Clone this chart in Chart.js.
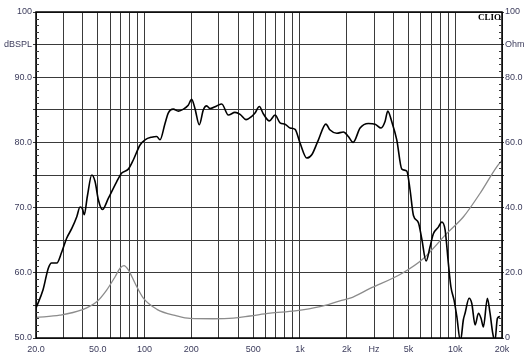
<!DOCTYPE html>
<html>
<head>
<meta charset="utf-8">
<script src="https://cdn.jsdelivr.net/npm/chart.js@4"></script>
<style>
  body { margin: 0; background: #fff; }
  #wrap { width: 530px; height: 364px; }
</style>
</head>
<body>
<div id="wrap"><canvas id="clio"></canvas></div>
<script>
// SPL response (Hz, dBSPL)
const splFreq = [20, 22.2, 24, 25.2, 27.2, 29.3, 31.5, 34, 36.6, 38.4, 39.7, 40.9, 42.8, 45.7, 48, 50.4, 53.5, 58.4, 66.2, 71.3,
  78.6, 84.6, 93.5, 100.7, 111, 119.7, 125.7, 135.4, 142, 153, 165, 178, 191, 201, 211, 225, 239, 251, 264, 291,
  314, 346, 382, 412, 450, 490, 514, 548, 581, 636, 692, 745, 802, 864, 931, 1002, 1107, 1192, 1316, 1470,
  1564, 1727, 1907, 2051, 2200, 2440, 2759, 3048, 3330, 3532, 3679, 3900, 4203, 4530, 4877, 5120, 5382, 5790, 6090, 6489,
  6885, 7230, 7785, 8190, 8605, 9035, 9370, 9827, 10235, 10800, 11280, 11570, 12280, 12780, 13430, 14100, 14670, 15180, 16100, 16750,
  17440, 18000, 18680, 19400];
const splValues = [54.6, 57.4, 60.7, 61.5, 61.5, 63.2, 65.3, 66.8, 68.6, 70.1, 69.9, 68.9, 71.7, 75.0, 74.0, 71.2, 69.7, 71.4, 74.0, 75.3,
  75.9, 77.3, 79.6, 80.4, 80.8, 80.9, 80.4, 82.9, 84.5, 85.1, 84.8, 85.1, 85.7, 86.6, 85.2, 82.7, 85.0, 85.6, 85.2, 85.6,
  85.9, 84.2, 84.6, 84.3, 83.5, 84.0, 84.5, 85.5, 84.4, 83.3, 84.2, 83.0, 82.8, 82.2, 82.0, 79.9, 77.6, 78.1, 80.4, 82.8,
  81.9, 81.4, 81.6, 80.9, 80.0, 82.2, 82.9, 82.8, 82.2, 83.2, 84.8, 83.2, 80.4, 75.9, 75.6, 72.7, 68.8, 67.7, 65.2, 61.8,
  64.0, 66.0, 67.0, 67.8, 66.6, 61.4, 57.9, 55.8, 53.3, 49.5, 52.8, 53.8, 56.1, 55.3, 52.0, 53.8, 53.0, 51.7, 56.1, 53.8,
  50.7, 49.5, 53.0, 53.3];

// impedance (Hz, Ohm)
const impFreq = [20, 28.5, 39.4, 49.2, 57, 64.6, 69.5, 73.7, 78.6, 86.8, 98.2, 120, 161, 196, 277, 373, 478, 643, 931, 1348,
  1812, 2104, 2830, 4530, 6240, 8830, 11300, 14460, 18500, 20000];
const impValues = [6.3, 7.0, 8.6, 11.1, 14.7, 18.8, 21.4, 22.2, 20.9, 16.8, 12.2, 8.8, 6.8, 6.0, 5.9, 6.1, 6.75, 7.6, 8.3, 9.6,
  11.4, 12.2, 15.2, 19.8, 24.4, 32.1, 37.2, 44.4, 52.5, 54.5];

// axes
const xGrid = [20, 30, 40, 50, 60, 70, 80, 90, 100, 200, 300, 400, 500, 600, 700, 800, 900,
  1000, 2000, 3000, 4000, 5000, 6000, 7000, 8000, 9000, 10000, 20000];
const xTickValues = [20, 50, 100, 200, 500, 1000, 2000, 3000, 5000, 10000, 20000];
const xTickLabels = ['20.0', '50.0', '100', '200', '500', '1k', '2k', 'Hz', '5k', '10k', '20k'];
const leftTickValues = [50, 60, 70, 80, 90, 95, 100];
const leftTickLabels = ['50.0', '60.0', '70.0', '80.0', '90.0', 'dBSPL', '100'];
const rightTickValues = [0, 20, 40, 60, 80, 90, 100];
const rightTickLabels = ['0', '20.0', '40.0', '60.0', '80.0', 'Ohm', '100'];

const labelColor = '#3c3c5c';
const gridColor = '#3a3a3a';
const tickFont = { family: 'Liberation Sans', size: 9 };

function pairs(xs, ys) {
  return xs.map((x, i) => ({ x: x, y: ys[i] }));
}

function lookup(values, labels, v) {
  const i = values.indexOf(v);
  return i >= 0 ? labels[i] : '';
}

// frame, minor ticks and the CLIO mark
const framePlugin = {
  id: 'frame',
  afterDraw(chart) {
    const ctx = chart.ctx;
    const a = chart.chartArea;
    ctx.save();
    ctx.strokeStyle = '#000';
    ctx.lineWidth = 1.5;
    ctx.strokeRect(a.left, a.top, a.right - a.left, a.bottom - a.top);

    ctx.lineWidth = 1;
    ctx.strokeStyle = gridColor;
    const yl = chart.scales.y;
    for (let v = 51; v < 100; v++) {
      if (v % 5 === 0) continue;
      const py = Math.round(yl.getPixelForValue(v)) + 0.5;
      ctx.beginPath();
      ctx.moveTo(a.left, py);
      ctx.lineTo(a.left + 3, py);
      ctx.stroke();
    }
    const yr = chart.scales.y1;
    for (let v = 2; v < 100; v += 2) {
      if (v % 10 === 0) continue;
      const py = Math.round(yr.getPixelForValue(v)) + 0.5;
      ctx.beginPath();
      ctx.moveTo(a.right, py);
      ctx.lineTo(a.right - 3, py);
      ctx.stroke();
    }

    ctx.fillStyle = '#000';
    ctx.font = 'bold 9px "Liberation Serif"';
    ctx.textAlign = 'right';
    ctx.textBaseline = 'alphabetic';
    ctx.fillText('CLIO', a.right - 1, a.top + 8);
    ctx.restore();
  }
};

new Chart(document.getElementById('clio'), {
  type: 'line',
  data: {
    datasets: [{
      label: 'SPL',
      data: pairs(splFreq, splValues),
      borderColor: '#000',
      borderWidth: 1.6,
      pointRadius: 0,
      cubicInterpolationMode: 'monotone',
      yAxisID: 'y'
    }, {
      label: 'Impedance',
      data: pairs(impFreq, impValues),
      borderColor: '#8c8c8c',
      borderWidth: 1.3,
      pointRadius: 0,
      cubicInterpolationMode: 'monotone',
      yAxisID: 'y1'
    }]
  },
  options: {
    responsive: true,
    maintainAspectRatio: false,
    animation: false,
    layout: { padding: { top: 12, left: 0, right: 0, bottom: 0 } },
    plugins: {
      legend: { display: false },
      tooltip: { enabled: false }
    },
    scales: {
      x: {
        type: 'logarithmic',
        min: 20,
        max: 20000,
        afterBuildTicks: (scale) => {
          scale.ticks = xGrid.map(v => ({ value: v }));
        },
        afterFit: (scale) => { scale.height = 26; },
        grid: { color: gridColor, lineWidth: 1, drawTicks: false },
        border: { display: false },
        ticks: {
          autoSkip: false,
          maxRotation: 0,
          padding: 6,
          color: labelColor,
          font: tickFont,
          callback: (v) => lookup(xTickValues, xTickLabels, v)
        }
      },
      y: {
        position: 'left',
        min: 50,
        max: 100,
        afterFit: (scale) => { scale.width = 36; },
        grid: { color: gridColor, lineWidth: 1, tickLength: 3, tickColor: gridColor },
        border: { display: false },
        ticks: {
          stepSize: 5,
          autoSkip: false,
          padding: 1,
          color: labelColor,
          font: tickFont,
          callback: (v) => lookup(leftTickValues, leftTickLabels, v)
        }
      },
      y1: {
        position: 'right',
        min: 0,
        max: 100,
        afterFit: (scale) => { scale.width = 28; },
        grid: { drawOnChartArea: false, tickLength: 2, tickColor: gridColor },
        border: { display: false },
        ticks: {
          stepSize: 10,
          autoSkip: false,
          padding: 1,
          color: labelColor,
          font: tickFont,
          callback: (v) => lookup(rightTickValues, rightTickLabels, v)
        }
      }
    }
  },
  plugins: [framePlugin]
});
</script>
</body>
</html>
